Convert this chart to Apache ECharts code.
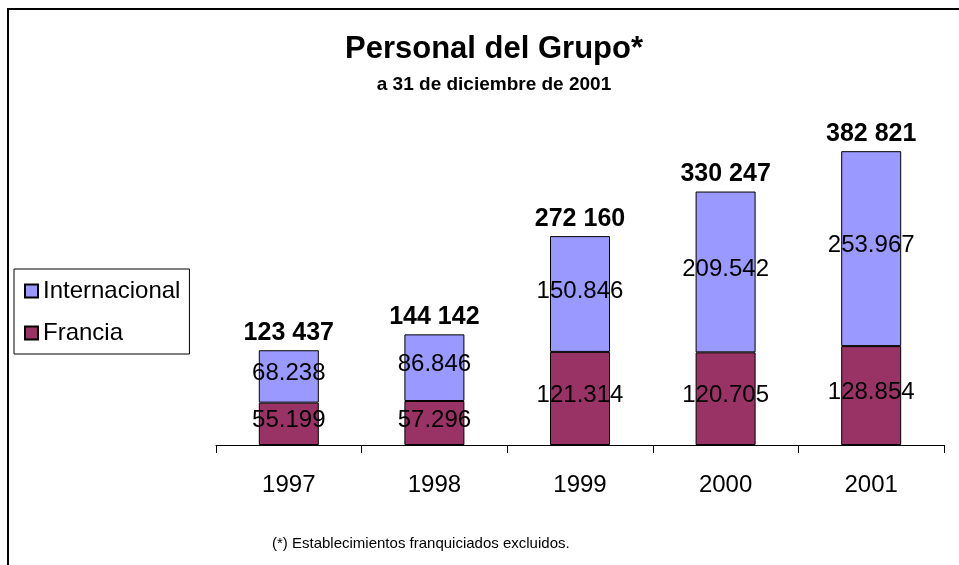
<!DOCTYPE html>
<html>
<head>
<meta charset="utf-8">
<title>Personal del Grupo</title>
<script src="https://cdn.jsdelivr.net/npm/echarts@6/dist/echarts.min.js"></script>
<style>
  html, body { margin: 0; padding: 0; background: #fff; }
  #chart { width: 959px; height: 565px; }
</style>
</head>
<body>
<div id="chart"></div>
<script>
// datos
var years = ['1997', '1998', '1999', '2000', '2001']
var francia = [55199, 57296, 121314, 120705, 128854]
var internacional = [68238, 86846, 150846, 209542, 253967]
var totalLabels = ['123 437', '144 142', '272 160', '330 247', '382 821']

var font = 'Liberation Sans, Arial, sans-serif'

// 55199 -> "55.199"
function fmt (v) {
  return (v / 1000).toFixed(3)
}

var chart = echarts.init(document.getElementById('chart'))

var segLabel = {
  show: true,
  position: 'inside',
  offset: [0, -3],
  color: '#000',
  fontSize: 24,
  fontFamily: font,
  formatter: function (p) { return fmt(p.value) }
}

chart.setOption({
  backgroundColor: '#fff',
  animation: false,
  title: {
    text: 'Personal del Grupo*',
    subtext: 'a 31 de diciembre de 2001',
    left: 489,
    top: 29,
    textAlign: 'center',
    itemGap: 10,
    textStyle: { fontSize: 31, fontWeight: 'bold', color: '#000', fontFamily: font },
    subtextStyle: { fontSize: 19, fontWeight: 'bold', color: '#000', fontFamily: font }
  },
  legend: {
    data: ['Internacional', 'Francia'],
    orient: 'vertical',
    left: 14,
    top: 269,
    padding: [9, 9, 8, 10],
    itemGap: 16,
    itemWidth: 13,
    itemHeight: 13,
    icon: 'rect',
    borderColor: '#000',
    borderWidth: 1,
    borderRadius: 0,
    textStyle: { fontSize: 24, color: '#000', fontFamily: font, lineHeight: 26 }
  },
  grid: {
    left: 216,
    right: 15,
    top: 138,
    bottom: 120
  },
  xAxis: {
    type: 'category',
    data: years,
    axisLine: { lineStyle: { color: '#000', width: 1 } },
    axisTick: { show: true, length: 8, interval: 0, lineStyle: { color: '#000' } },
    axisLabel: { fontSize: 24, color: '#000', fontFamily: font, margin: 28 }
  },
  yAxis: {
    type: 'value',
    min: 0,
    max: 400000,
    show: false,
    splitLine: { show: false }
  },
  graphic: [
    {
      type: 'rect',
      shape: { x: 8, y: 9, width: 1200, height: 800 },
      style: { fill: 'none', stroke: '#000', lineWidth: 2 },
      silent: true
    },
    {
      type: 'text',
      left: 272,
      top: 536,
      style: {
        text: '(*) Establecimientos franquiciados excluidos.',
        fontSize: 15,
        fontFamily: font,
        fill: '#000'
      }
    }
  ],
  series: [
    {
      name: 'Francia',
      type: 'bar',
      stack: 'total',
      barWidth: 60,
      data: francia,
      itemStyle: { color: '#993366', borderColor: '#000', borderWidth: 1 },
      label: segLabel
    },
    {
      name: 'Internacional',
      type: 'bar',
      stack: 'total',
      barWidth: 60,
      data: internacional,
      itemStyle: { color: '#9999FF', borderColor: '#000', borderWidth: 1 },
      label: segLabel
    },
    {
      // serie vacia solo para el total encima de cada barra
      name: 'Total',
      type: 'bar',
      stack: 'total',
      barWidth: 60,
      data: years.map(function () { return 0 }),
      itemStyle: { color: 'transparent' },
      label: {
        show: true,
        position: 'top',
        distance: 5,
        color: '#000',
        fontSize: 25,
        fontWeight: 'bold',
        fontFamily: font,
        formatter: function (p) { return totalLabels[p.dataIndex] }
      }
    }
  ]
})
</script>
</body>
</html>
